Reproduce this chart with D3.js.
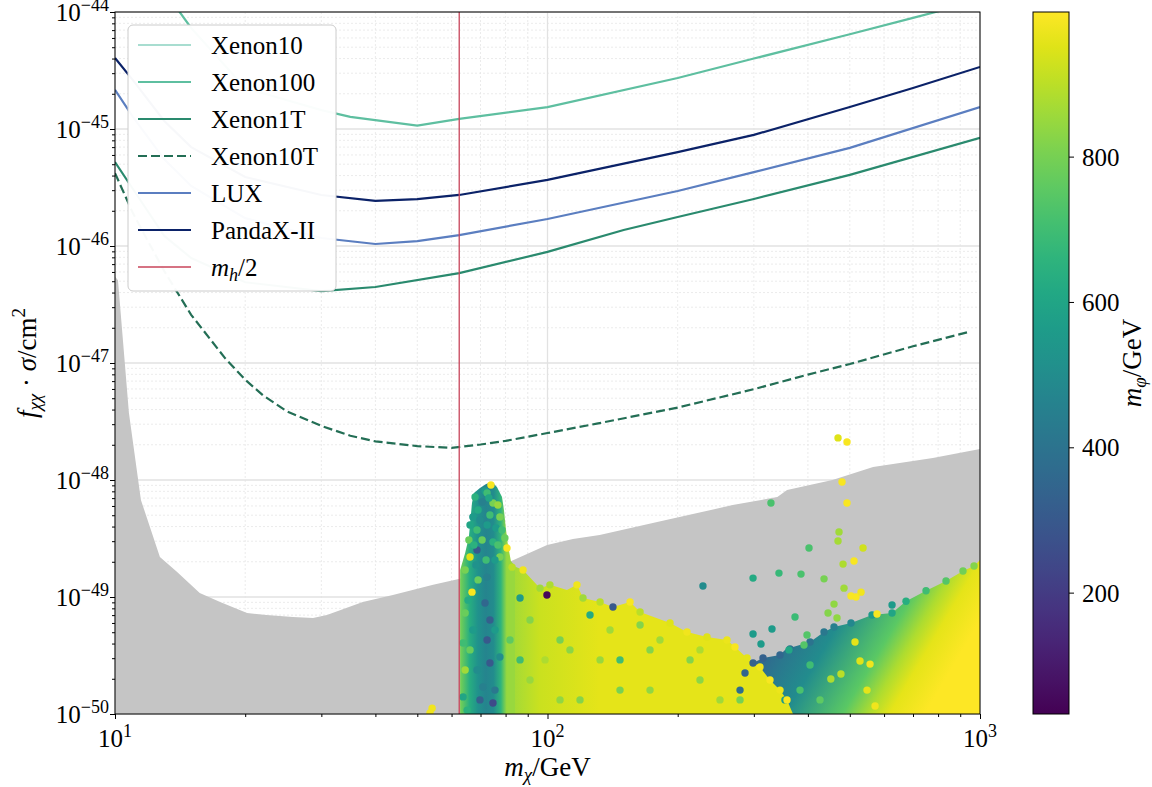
<!DOCTYPE html>
<meta charset="utf-8">
<style>
body{margin:0;background:#fff;}
text{font-family:"Liberation Serif","DejaVu Serif",serif;fill:#000;}
</style>
<body>
<svg id="chart" width="1152" height="787"></svg>
<script src="https://cdn.jsdelivr.net/npm/d3@7"></script>
<script>
// exclusion limits, m_chi in GeV, f*sigma in cm^2
var xenon10M  = [10, 20, 30, 50, 100, 200, 500, 1000];
var xenon10S  = [5e-43, 8e-44, 5e-44, 4.5e-44, 6e-44, 1.1e-43, 2.6e-43, 5e-43];
var xenon100M = [13, 14, 15, 20, 30, 35, 50, 62.5, 100, 200, 300, 500, 700, 1000];
var xenon100S = [1.6e-44, 1.04e-44, 7.3e-45, 2.24e-45, 1.45e-45, 1.27e-45, 1.07e-45, 1.22e-45, 1.54e-45, 2.73e-45, 4.0e-45, 6.45e-45, 8.9e-45, 1.26e-44];
var xenon1TM  = [10, 11, 13, 15, 20, 30, 40, 62.5, 100, 150, 200, 300, 500, 1000];
var xenon1TS  = [5.22e-46, 3.07e-46, 1.22e-46, 7.9e-47, 4.9e-47, 4.12e-47, 4.46e-47, 5.87e-47, 8.9e-47, 1.37e-46, 1.77e-46, 2.52e-46, 4.05e-46, 8.4e-46];
var xenon10TM = [10, 11, 12, 13, 15, 18, 20, 22, 25, 30, 35, 40, 50, 60, 70, 80, 100, 130, 200, 300, 400, 500, 700, 940];
var xenon10TS = [4.2e-46, 1.91e-46, 1.05e-46, 6.1e-47, 2.58e-47, 1.09e-47, 7.2e-48, 5.28e-48, 3.85e-48, 2.9e-48, 2.39e-48, 2.14e-48, 1.95e-48, 1.88e-48, 2.01e-48, 2.16e-48, 2.52e-48, 3.03e-48, 4.16e-48, 5.97e-48, 7.96e-48, 9.8e-48, 1.39e-47, 1.84e-47];
var luxM      = [10, 11, 13, 15, 20, 30, 40, 50, 62.5, 100, 200, 300, 500, 1000];
var luxS      = [2.16e-45, 1.27e-45, 5.5e-46, 3.26e-46, 1.73e-46, 1.17e-46, 1.04e-46, 1.10e-46, 1.24e-46, 1.70e-46, 2.95e-46, 4.28e-46, 6.9e-46, 1.54e-45];
var pandaM    = [10, 11, 13, 15, 20, 30, 40, 50, 62.5, 100, 200, 300, 500, 700, 1000];
var pandaS    = [4.05e-45, 2.62e-45, 1.17e-45, 7.0e-46, 3.89e-46, 2.73e-46, 2.43e-46, 2.52e-46, 2.73e-46, 3.67e-46, 6.35e-46, 8.9e-46, 1.54e-45, 2.24e-45, 3.39e-45];
var mHiggs = 125;

// grey region
var floorM = [10, 10.16, 10.77, 11.48, 12.7, 13.9, 15.7, 17.5, 20.2, 22.4, 25.8, 28.7, 30.9, 37.4, 43.9, 54.4, 62.7, 80.4, 99.8, 114.5, 132, 188, 268, 340, 358, 456, 566, 778, 1000];
var floorS = [5.5e-47, 5.1e-47, 3.74e-48, 6.75e-49, 2.2e-49, 1.64e-49, 1.08e-49, 9.06e-50, 7.3e-50, 7.0e-50, 6.75e-50, 6.6e-50, 7.0e-50, 9.06e-50, 1.04e-49, 1.27e-49, 1.43e-49, 1.95e-49, 2.78e-49, 3.13e-49, 3.39e-49, 4.55e-49, 6.1e-49, 7.16e-49, 8.2e-49, 1.0e-48, 1.29e-48, 1.54e-48, 1.84e-48];

// outlines of the densely filled scan regions [m_chi, sigma]
var towerEnv = [[62.8,8e-51],[62.8,1.7e-49],[64.5,2.38e-49],[65.8,3.26e-49],[66.5,5.0e-49],[66.9,6.36e-49],[67.6,7.75e-49],[69.8,8.55e-49],[72.1,9.25e-49],[74.4,9.6e-49],[76.4,8.7e-49],[78.5,7.16e-49],[79.3,5.54e-49],[80.2,3.74e-49],[81.0,2.78e-49],[82.3,2.03e-49],[84.1,1.84e-49],[84.1,8e-51]];
var mainEnv = [[78,8e-51],[78,1.6e-49],[82.8,1.87e-49],[87.8,1.7e-49],[96.1,1.19e-49],[101.3,1.27e-49],[110.9,1.15e-49],[117.0,1.27e-49],[120.8,9.8e-50],[132.3,9.06e-50],[141.7,8.22e-50],[155.2,9.06e-50],[163.7,7.45e-50],[192,6.0e-50],[210.2,5.02e-50],[233.8,4.55e-50],[260,4.29e-50],[271.3,3.74e-50],[289.3,3.01e-50],[310,2.52e-50],[326.9,1.95e-50],[344.8,1.6e-50],[357.9,1.32e-50],[369.5,1.0e-50],[373.5,8e-51]];
var rightEnv = [[276,8e-51],[278.7,1.6e-50],[286.2,2.24e-50],[298.7,2.73e-50],[315,3.01e-50],[344.8,3.19e-50],[357.9,3.67e-50],[369.5,3.74e-50],[404.6,4.12e-50],[435.9,5.02e-50],[459.7,5.54e-50],[503.2,6.0e-50],[562.8,7.02e-50],[626.1,7.3e-50],[674.4,9.2e-50],[750.2,1.13e-49],[834.5,1.37e-49],[913.4,1.67e-49],[968.8,1.84e-49],[1000,2.07e-49],[1100,2.3e-49],[1100,8e-51]];
// m_phi colour along the regions: [m_chi, m_phi]
var towerShade = [[62.8,800],[66,640],[69,520],[72,470],[75,500],[78,660],[80.5,850]];
var mainShade  = [[80,850],[96,920],[132,960],[370,960]];
// right region shades along a tilted direction: two anchor points, then [fraction, m_phi]
var rightAxis  = [[310,2.9e-50],[674,5.3e-51]];
var rightShade = [[0,350],[0.12,420],[0.29,500],[0.58,750],[0.71,880],[0.82,960],[1,1000]];

// single scan points [m_chi, sigma, m_phi]
var towerPts = [[74.0,9.06e-49,990],[71.7,8.05e-49,560],[72.5,7.75e-49,700],[68.0,7.16e-49,650],[70.6,6.49e-49,450],[74.8,6.36e-49,800],[76.8,6.11e-49,850],[67.2,4.83e-49,560],[68.7,3.74e-49,700],[72.5,4.12e-49,560],[77.6,4.83e-49,800],[79.7,3.19e-49,780],[80.6,2.62e-49,990],[65.8,3.07e-49,780],[66.2,2.2e-49,950],[68.7,2.52e-49,300],[74.8,2.95e-49,650],[77.6,2.2e-49,800],[64.5,1.7e-49,800],[69.1,1.4e-49,780],[66.9,1.1e-49,990],[72.5,1.48e-49,450],[71.7,8.89e-50,350],[73.6,6.36e-50,320],[72.5,4.29e-50,300],[67.2,5.22e-50,560],[64.5,7.3e-50,780],[63.8,4.05e-50,700],[64.5,2.38e-50,860],[68.7,2.38e-50,500],[73.6,2.73e-50,300],[70.9,1.7e-50,450],[74.8,1.24e-50,250],[63.8,1.4e-50,600],[65.2,1.08e-50,650],[77.6,3.07e-50,500],
	[69.1,5.54e-49,620],[73.6,5.02e-49,700],[76.0,3.89e-49,560],[70.6,3.07e-49,780],[66.2,4.12e-49,600],[75.6,2.07e-49,560],[72.1,2.07e-49,700],[68.3,1.88e-49,520],[78.5,3.74e-49,700],[73.2,7.02e-49,600],[69.8,4.55e-49,500],[76.8,2.78e-49,720],[67.6,2.78e-49,650],
	[66.2,3.53e-50,780],[69.8,1.32e-50,330],[75.6,1.6e-50,420],[65.5,9.4e-50,620],[75.6,5.22e-50,560]];
var mainPts = [[82.8,1.8e-49,900],[87.8,1.7e-49,980],[96.1,1.19e-49,860],[101.3,1.27e-49,880],[99.7,1.04e-49,50],[117.0,1.27e-49,980],[120.8,9.8e-50,860],[132.3,9.06e-50,900],[141.7,8.22e-50,300],[155.2,9.06e-50,990],[163.7,7.45e-50,900],[192,6.0e-50,950],[210.2,5.02e-50,980],[233.8,4.55e-50,950],[260,4.29e-50,970],[271.3,3.74e-50,990],[289.3,3.01e-50,960],[310,2.52e-50,980],[326.9,1.95e-50,990],[344.8,1.6e-50,970],[357.9,1.32e-50,990],[86.4,9.8e-50,560],[91.1,6.36e-50,820],[106.9,4.29e-50,800],[132.3,2.9e-50,850],[172.6,3.53e-50,820],[225.2,1.95e-50,830],[147.1,1.6e-50,800],[106.9,1.32e-50,840],[86.4,2.9e-50,700],[125.4,7.02e-50,620],[163.7,5.77e-50,820],[278.7,1.32e-50,800],
	[91.1,1.95e-50,850],[112.7,3.53e-50,830],[139.5,5.22e-50,860],[172.6,1.6e-50,840],[213.6,2.9e-50,820],[250.5,1.32e-50,860],[118.9,1.32e-50,820],[98.7,2.9e-50,880],[147.1,2.9e-50,700],[182,4.29e-50,860],[225.2,3.53e-50,880],[81.9,4.29e-50,760]];
var rightPts = [[363.7,3.6e-50,400],[404.6,4.12e-50,400],[435.9,5.02e-50,420],[459.7,5.54e-50,450],[503.2,6.0e-50,480],[562.8,7.02e-50,560],[626.1,7.3e-50,600],[674.4,9.2e-50,640],[750.2,1.13e-49,700],[834.5,1.37e-49,740],[913.4,1.67e-49,790],[968.8,1.84e-49,820],[298.7,2.73e-50,330],[315,3.01e-50,330],[344.8,3.19e-50,350],[286.2,2.24e-50,340],[278.7,1.6e-50,380],[514,4.12e-50,960],[527.9,2.84e-50,950],[556.9,2.67e-50,980],[477,2.2e-50,900],[452,1.99e-50,880],[548,1.6e-50,960],[572,1.17e-50,980],[404.6,2.62e-50,700],[383.6,1.6e-50,720],[354,1.32e-50,560],[426.7,1.32e-50,760]];
var strayPts = [[469.6,2.29e-48,950],[492.6,2.11e-48,990],[479.7,9.6e-49,990],[492.6,6.36e-49,990],[328.6,6.36e-49,720],[472.1,3.6e-49,860],[469.6,3.01e-49,870],[402.4,2.62e-49,720],[536.5,2.62e-49,930],[511.3,2.03e-49,990],[482.3,1.91e-49,880],[228.8,1.24e-49,500],[298.7,1.45e-49,620],[342.9,1.6e-49,680],[385.6,1.57e-49,720],[435.9,1.43e-49,800],[484.8,1.19e-49,860],[503.2,1.02e-49,990],[516.8,1.0e-49,990],[530.8,1.1e-49,980],[459.7,8.7e-50,840],[445.3,7.3e-50,820],[467.1,6.61e-50,840],[373.5,6.75e-50,690],[330.4,5.33e-50,560],[298.7,4.83e-50,560],[311.6,3.96e-50,560],[398.1,4.73e-50,740],[391.8,3.89e-50,740],[361.7,3.53e-50,610],[626.1,8.55e-50,560],[578.0,7.16e-50,990],[54.1,1.12e-50,980],[53.5,1.02e-50,980]];

var xMajor = [10, 100, 1000];
var yMajor = [1e-50, 1e-49, 1e-48, 1e-47, 1e-46, 1e-45, 1e-44];
var cbTicks = [200, 400, 600, 800];

var pL = 115, pR = 980, pT = 12, pB = 714;
var svg = d3.select("#chart");
var x = d3.scaleLog().domain([10, 1000]).range([pL, pR]);
var y = d3.scaleLog().domain([1e-50, 1e-44]).range([pB, pT]);
var cmap = d3.scaleSequential(d3.interpolateViridis).domain([33, 999]);

var xMinor = [], yMinor = [];
[10, 100].forEach(function(d){ for(var k=2;k<10;k++) xMinor.push(k*d); });
yMajor.slice(0, -1).forEach(function(d){ for(var k=2;k<10;k++) yMinor.push(k*d); });

var defs = svg.append("defs");
defs.append("clipPath").attr("id","clip").append("rect")
	.attr("x",pL).attr("y",pT).attr("width",pR-pL).attr("height",pB-pT);

// grid
var grid = svg.append("g");
grid.selectAll(".gxm").data(xMinor).enter().append("line")
	.attr("x1",function(d){return x(d);}).attr("x2",function(d){return x(d);})
	.attr("y1",pT).attr("y2",pB)
	.attr("stroke","#e6e6e6").attr("stroke-width",0.8).attr("stroke-dasharray","2,2");
grid.selectAll(".gym").data(yMinor).enter().append("line")
	.attr("y1",function(d){return y(d);}).attr("y2",function(d){return y(d);})
	.attr("x1",pL).attr("x2",pR)
	.attr("stroke","#e6e6e6").attr("stroke-width",0.8).attr("stroke-dasharray","2,2");
grid.selectAll(".gx").data(xMajor).enter().append("line")
	.attr("x1",function(d){return x(d);}).attr("x2",function(d){return x(d);})
	.attr("y1",pT).attr("y2",pB)
	.attr("stroke","#e2e2e2").attr("stroke-width",1.3);
grid.selectAll(".gy").data(yMajor).enter().append("line")
	.attr("y1",function(d){return y(d);}).attr("y2",function(d){return y(d);})
	.attr("x1",pL).attr("x2",pR)
	.attr("stroke","#e2e2e2").attr("stroke-width",1.3);

var plot = svg.append("g").attr("clip-path","url(#clip)");

// grey area
var floor = floorM.map(function(m,i){return [m, floorS[i]];});
plot.append("path").datum(floor)
	.attr("d", d3.area().x(function(d){return x(d[0]);}).y0(pB+5).y1(function(d){return y(d[1]);}))
	.attr("fill","#c5c5c5");

// limit curves
var curves = [
	{name:"Xenon10", m:xenon10M, s:xenon10S, color:"#a8ddd0", dash:null},
	{name:"Xenon100", m:xenon100M, s:xenon100S, color:"#5ebfa0", dash:null},
	{name:"Xenon1T", m:xenon1TM, s:xenon1TS, color:"#2a8a6e", dash:null},
	{name:"Xenon10T", m:xenon10TM, s:xenon10TS, color:"#236e55", dash:"9,4"},
	{name:"LUX", m:luxM, s:luxS, color:"#5b7ec0", dash:null},
	{name:"PandaX-II", m:pandaM, s:pandaS, color:"#0b2268", dash:null}
];
var line = d3.line().x(function(d){return x(d[0]);}).y(function(d){return y(d[1]);});
curves.forEach(function(c){
	plot.append("path").datum(c.m.map(function(m,i){return [m, c.s[i]];}))
		.attr("d", line).attr("fill","none")
		.attr("stroke", c.color).attr("stroke-width",2.2)
		.attr("stroke-dasharray", c.dash);
});

// gradients for dense regions
function shadeX(id, shade){
	var g = defs.append("linearGradient").attr("id",id).attr("gradientUnits","userSpaceOnUse")
		.attr("x1",x(shade[0][0])).attr("x2",x(shade[shade.length-1][0])).attr("y1",0).attr("y2",0);
	var x0 = x(shade[0][0]), span = x(shade[shade.length-1][0]) - x0;
	shade.forEach(function(s){
		g.append("stop").attr("offset",(x(s[0])-x0)/span).attr("stop-color",cmap(s[1]));
	});
}
shadeX("gTower", towerShade);
shadeX("gMain", mainShade);
var gR = defs.append("linearGradient").attr("id","gRight").attr("gradientUnits","userSpaceOnUse")
	.attr("x1",x(rightAxis[0][0])).attr("y1",y(rightAxis[0][1]))
	.attr("x2",x(rightAxis[1][0])).attr("y2",y(rightAxis[1][1]));
rightShade.forEach(function(s){
	gR.append("stop").attr("offset",s[0]).attr("stop-color",cmap(s[1]));
});

var region = d3.line().x(function(d){return x(d[0]);}).y(function(d){return y(d[1]);});
plot.append("path").datum(rightEnv).attr("d",region).attr("fill","url(#gRight)");
plot.append("path").datum(mainEnv).attr("d",region).attr("fill","url(#gMain)");
plot.append("path").datum(towerEnv).attr("d",region).attr("fill","url(#gTower)");

function dots(data){
	plot.append("g").selectAll("circle").data(data).enter().append("circle")
		.attr("cx",function(d){return x(d[0]);})
		.attr("cy",function(d){return y(d[1]);})
		.attr("r",3.7)
		.attr("fill",function(d){return cmap(d[2]);});
}
dots(rightPts);
dots(mainPts);
dots(towerPts);
dots(strayPts);

// m_h/2
plot.append("line")
	.attr("x1",x(mHiggs/2)).attr("x2",x(mHiggs/2)).attr("y1",pT).attr("y2",pB)
	.attr("stroke","#c8455a").attr("stroke-width",1.3);

// frame
svg.append("rect").attr("x",pL).attr("y",pT).attr("width",pR-pL).attr("height",pB-pT)
	.attr("fill","none").attr("stroke","#000").attr("stroke-width",1);

// axes ticks
function tickStyle(g){ g.select(".domain").remove(); g.selectAll("line").attr("stroke","#000"); g.selectAll("text").remove(); }
svg.append("g").attr("transform","translate(0,"+pB+")")
	.call(d3.axisBottom(x).tickValues(xMajor).tickSize(5)).call(tickStyle);
svg.append("g").attr("transform","translate(0,"+pB+")")
	.call(d3.axisBottom(x).tickValues(xMinor).tickSize(3)).call(tickStyle);
svg.append("g").attr("transform","translate("+pL+",0)")
	.call(d3.axisLeft(y).tickValues(yMajor).tickSize(5)).call(tickStyle);
svg.append("g").attr("transform","translate("+pL+",0)")
	.call(d3.axisLeft(y).tickValues(yMinor).tickSize(3)).call(tickStyle);

function powLabel(t, e){
	t.append("tspan").text("10");
	t.append("tspan").attr("dy",-10).attr("font-size",18).text(e);
}
svg.selectAll(".xl").data(xMajor).enter().append("text")
	.attr("x",function(d){return x(d);}).attr("y",747)
	.attr("text-anchor","middle").attr("font-size",25)
	.each(function(d){ powLabel(d3.select(this), String(Math.round(Math.log10(d)))); });
svg.selectAll(".yl").data(yMajor).enter().append("text")
	.attr("x",109).attr("y",function(d){return y(d)+9;})
	.attr("text-anchor","end").attr("font-size",25)
	.each(function(d){ powLabel(d3.select(this), "\u2212"+String(-Math.round(Math.log10(d)))); });

// axis titles
var xt = svg.append("text").attr("x",(pL+pR)/2).attr("y",776).attr("text-anchor","middle").attr("font-size",27);
xt.append("tspan").attr("font-style","italic").text("m");
xt.append("tspan").attr("font-style","italic").attr("font-size",19).attr("dy",5).text("\u03c7");
xt.append("tspan").attr("dy",-5).text("/GeV");

var yt = svg.append("text").attr("transform","translate(36,"+((pT+pB)/2)+") rotate(-90)")
	.attr("text-anchor","middle").attr("font-size",27);
yt.append("tspan").attr("font-style","italic").text("f");
yt.append("tspan").attr("font-style","italic").attr("font-size",19).attr("dy",5).text("\u03c7\u03c7");
yt.append("tspan").attr("dy",-5).text(" \u00b7 ");
yt.append("tspan").attr("font-style","italic").text("\u03c3");
yt.append("tspan").text("/cm");
yt.append("tspan").attr("font-size",19).attr("dy",-11).text("2");

// legend
var leg = svg.append("g");
leg.append("rect").attr("x",128).attr("y",25).attr("width",208).attr("height",266).attr("rx",5)
	.attr("fill","#fff").attr("fill-opacity",0.97).attr("stroke","#cccccc").attr("stroke-width",1);
var entries = curves.concat([{name:"mh", color:"#c8455a", dash:null, thin:true}]);
entries.forEach(function(c, i){
	var ly = 45 + i*37;
	leg.append("line").attr("x1",138).attr("x2",191).attr("y1",ly).attr("y2",ly)
		.attr("stroke",c.color).attr("stroke-width",c.thin ? 1.3 : 2.2).attr("stroke-dasharray",c.dash);
	var t = leg.append("text").attr("x",211).attr("y",ly+9).attr("font-size",25);
	if(c.name == "mh"){
		t.append("tspan").attr("font-style","italic").text("m");
		t.append("tspan").attr("font-style","italic").attr("font-size",18).attr("dy",5).text("h");
		t.append("tspan").attr("dy",-5).text("/2");
	} else {
		t.text(c.name);
	}
});

// colorbar
var cbL = 1033, cbR = 1069;
var cy = d3.scaleLinear().domain([33, 999]).range([pB, pT]);
var cg = defs.append("linearGradient").attr("id","cbar").attr("x1",0).attr("y1",1).attr("x2",0).attr("y2",0);
d3.range(0, 1.0001, 0.05).forEach(function(t){
	cg.append("stop").attr("offset",t).attr("stop-color",d3.interpolateViridis(t));
});
svg.append("rect").attr("x",cbL).attr("y",pT).attr("width",cbR-cbL).attr("height",pB-pT)
	.attr("fill","url(#cbar)").attr("stroke","#000").attr("stroke-width",1);
svg.append("g").attr("transform","translate("+cbR+",0)")
	.call(d3.axisRight(cy).tickValues(cbTicks).tickSize(5)).call(tickStyle);
svg.selectAll(".cl").data(cbTicks).enter().append("text")
	.attr("x",cbR+13).attr("y",function(d){return cy(d)+9;})
	.attr("font-size",25).text(function(d){return d;});
var ct = svg.append("text").attr("transform","translate(1141,"+((pT+pB)/2)+") rotate(-90)")
	.attr("text-anchor","middle").attr("font-size",27);
ct.append("tspan").attr("font-style","italic").text("m");
ct.append("tspan").attr("font-style","italic").attr("font-size",19).attr("dy",5).text("\u03c6");
ct.append("tspan").attr("dy",-5).text("/GeV");
</script>
</body>
